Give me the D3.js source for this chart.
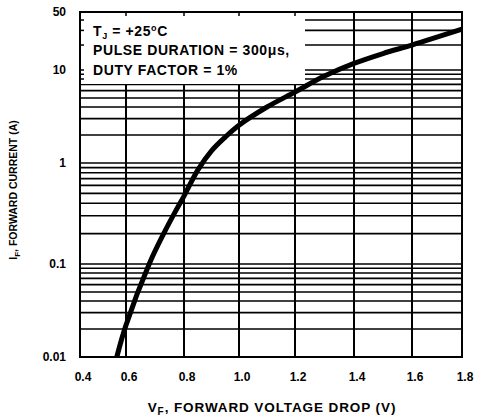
<!DOCTYPE html>
<html>
<head>
<meta charset="utf-8">
<script src="https://cdn.jsdelivr.net/npm/d3@7"></script>
<style>
  body { margin: 0; background: #fff; }
  svg text { font-family: "Liberation Sans", Arial, sans-serif; font-weight: bold; fill: #000; }
</style>
</head>
<body>
<div id="chart"></div>
<script>
// forward voltage (V) and forward current (A)
const forwardVoltage = [0.56, 0.60, 0.68, 0.73, 0.77, 0.80, 0.85, 0.90, 0.95, 1.00, 1.10, 1.20, 1.30, 1.40, 1.50, 1.60, 1.80];
const forwardCurrent = [0.01, 0.022, 0.1, 0.2, 0.33, 0.47, 0.85, 1.35, 1.9, 2.55, 4.0, 5.8, 8.6, 12.0, 15.8, 20, 31];

const xTickValues = [0.4, 0.6, 0.8, 1.0, 1.2, 1.4, 1.6, 1.8];
const xTickLabels = ['0.4', '0.6', '0.8', '1.0', '1.2', '1.4', '1.6', '1.8'];
const yTickValues = [0.01, 0.1, 1, 10, 50];
const yTickLabels = ['0.01', '0.1', '1', '10', '50'];

const noteTj = '+25';
const notePulse = 'PULSE DURATION = 300\u03bcs,';
const noteDuty = 'DUTY FACTOR = 1%';

class ForwardCurvePlot {
    constructor(containerID, width, height) {
        this.containerID = containerID;
        this.width = width;
        this.height = height;
        this.margin = { top: 12, right: 16, bottom: 61, left: 80 };

        this.initVis();
    }

    initVis() {
        let vis = this;

        vis.svg = d3.select(vis.containerID)
            .append('svg')
            .attr('width', vis.width)
            .attr('height', vis.height);

        let left = vis.margin.left;
        let right = vis.width - vis.margin.right;
        let top = vis.margin.top;
        let bottom = vis.height - vis.margin.bottom;

        // the scanned sheet is not quite evenly spaced, so the scales are piecewise
        vis.x = d3.scaleLinear()
            .domain(xTickValues)
            .range([left, 126, 184, 239, 295, 354, 412, right]);

        vis.y = d3.scaleLog()
            .domain(yTickValues)
            .range([bottom, 264, 163, 70, top]);

        vis.updateVis();
    }

    updateVis() {
        let vis = this;
        let x = vis.x, y = vis.y;
        let x0 = x(0.4), x1 = x(1.8), y0 = y(0.01), y1 = y(50);

        // horizontal log grid: 1..9 in every decade
        vis.svg.append('g')
            .selectAll('line')
            .data(y.ticks().filter(d => d > 0.01 && d < 50))
            .join('line')
            .attr('x1', x0).attr('x2', x1)
            .attr('y1', d => y(d)).attr('y2', d => y(d))
            .attr('stroke', '#000')
            .attr('stroke-width', 1.6);

        // vertical grid
        vis.svg.append('g')
            .selectAll('line')
            .data(xTickValues.slice(1, -1))
            .join('line')
            .attr('x1', d => x(d)).attr('x2', d => x(d))
            .attr('y1', y0).attr('y2', y1)
            .attr('stroke', '#000')
            .attr('stroke-width', 2);

        // white note box hides the grid in the top left corner
        let boxRight = 305, boxBottom = 84;
        vis.svg.append('rect')
            .attr('x', x0)
            .attr('y', y1)
            .attr('width', boxRight - x0)
            .attr('height', boxBottom - y1)
            .attr('fill', '#fff');

        // small tick stubs left on the box edges
        vis.svg.append('g')
            .selectAll('line')
            .data(y.ticks().filter(d => y(d) < boxBottom && d < 50))
            .join('line')
            .attr('x1', x0).attr('x2', x0 + 4)
            .attr('y1', d => y(d)).attr('y2', d => y(d))
            .attr('stroke', '#000')
            .attr('stroke-width', 1.5);

        vis.svg.append('g')
            .selectAll('line')
            .data(xTickValues.filter(d => d > 0.4 && x(d) < boxRight))
            .join('line')
            .attr('x1', d => x(d)).attr('x2', d => x(d))
            .attr('y1', y1).attr('y2', y1 + 4)
            .attr('stroke', '#000')
            .attr('stroke-width', 1.5);

        // frame
        vis.svg.append('rect')
            .attr('x', x0)
            .attr('y', y1)
            .attr('width', x1 - x0)
            .attr('height', y0 - y1)
            .attr('fill', 'none')
            .attr('stroke', '#000')
            .attr('stroke-width', 2);

        // forward characteristic
        let points = forwardVoltage.map((v, i) => [v, forwardCurrent[i]]);
        let line = d3.line()
            .x(d => x(d[0]))
            .y(d => y(d[1]))
            .curve(d3.curveCatmullRom.alpha(0.5));

        vis.svg.append('path')
            .datum(points)
            .attr('d', line)
            .attr('fill', 'none')
            .attr('stroke', '#000')
            .attr('stroke-width', 5)
            .attr('stroke-linejoin', 'round');

        // tick labels
        vis.svg.append('g')
            .selectAll('text')
            .data(xTickValues)
            .join('text')
            .attr('x', d => x(d) + 3)
            .attr('y', 381)
            .attr('text-anchor', 'middle')
            .attr('font-size', 12)
            .text((d, i) => xTickLabels[i]);

        vis.svg.append('g')
            .selectAll('text')
            .data(yTickValues)
            .join('text')
            .attr('x', 66)
            .attr('y', d => y(d))
            .attr('dy', '0.36em')
            .attr('text-anchor', 'end')
            .attr('font-size', 12)
            .text((d, i) => yTickLabels[i]);

        // axis titles
        let xTitle = vis.svg.append('text')
            .attr('x', 272)
            .attr('y', 412)
            .attr('text-anchor', 'middle')
            .attr('font-size', 13.5)
            .attr('letter-spacing', 0.9);
        xTitle.append('tspan').text('V');
        xTitle.append('tspan').attr('font-size', 10).attr('dy', 3).text('F');
        xTitle.append('tspan').attr('dy', -3).text(', FORWARD VOLTAGE DROP (V)');

        let yTitle = vis.svg.append('text')
            .attr('transform', 'translate(17,190) rotate(-90)')
            .attr('text-anchor', 'middle')
            .attr('font-size', 10.5);
        yTitle.append('tspan').text('I');
        yTitle.append('tspan').attr('font-size', 8).attr('dy', 3).text('F');
        yTitle.append('tspan').attr('dy', -3).text(', FORWARD CURRENT (A)');

        // conditions note
        let note = vis.svg.append('g')
            .attr('font-size', 14)
            .attr('letter-spacing', 0.6);

        let tj = note.append('text').attr('x', 93).attr('y', 36);
        tj.append('tspan').text('T');
        tj.append('tspan').attr('font-size', 9).attr('dy', 3).text('J');
        tj.append('tspan').attr('dy', -3).text(' = ' + noteTj);
        tj.append('tspan').attr('font-size', 9).attr('dy', -5).text('o');
        tj.append('tspan').attr('dy', 5).text('C');

        note.append('text').attr('x', 93).attr('y', 55).text(notePulse);
        note.append('text').attr('x', 93).attr('y', 75).text(noteDuty);
    }
}

new ForwardCurvePlot('#chart', 478, 418);
</script>
</body>
</html>
